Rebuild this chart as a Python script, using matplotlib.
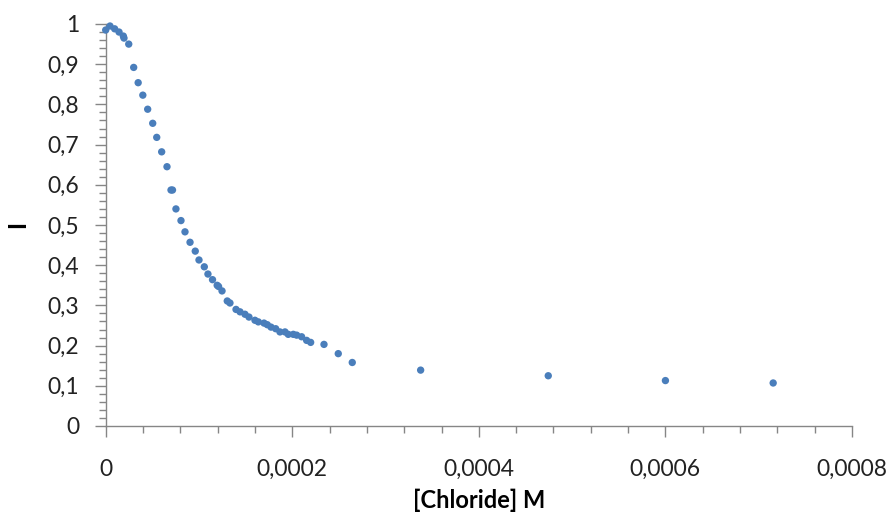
import matplotlib
matplotlib.use("Agg")
import matplotlib.pyplot as plt
from matplotlib.ticker import MultipleLocator, FuncFormatter

chloride = [0.0, 4.6e-6, 9.6e-6, 1.43e-5, 1.89e-5, 1.96e-5, 2.47e-5, 3.0e-5, 3.48e-5,
            3.98e-5, 4.5e-5, 5.04e-5, 5.47e-5, 6.0e-5, 6.57e-5, 7.0e-5, 7.16e-5,
            7.53e-5, 8.07e-5, 8.5e-5, 9.04e-5, 9.6e-5, 1.0e-4, 1.057e-4, 1.096e-4,
            1.145e-4, 1.195e-4, 1.21e-4, 1.247e-4, 1.303e-4, 1.332e-4, 1.397e-4,
            1.44e-4, 1.493e-4, 1.536e-4, 1.60e-4, 1.636e-4, 1.697e-4, 1.732e-4,
            1.772e-4, 1.822e-4, 1.868e-4, 1.922e-4, 1.957e-4, 2.011e-4, 2.047e-4,
            2.10e-4, 2.154e-4, 2.197e-4, 2.34e-4, 2.493e-4, 2.643e-4, 3.376e-4,
            4.744e-4, 6.0e-4, 7.155e-4]
intensity = [0.985, 0.995, 0.988, 0.980, 0.970, 0.965, 0.950, 0.892, 0.854,
             0.823, 0.788, 0.753, 0.718, 0.682, 0.645, 0.587, 0.587,
             0.540, 0.511, 0.483, 0.457, 0.435, 0.413, 0.396, 0.378,
             0.364, 0.350, 0.347, 0.336, 0.311, 0.306, 0.290,
             0.284, 0.278, 0.271, 0.263, 0.259, 0.256, 0.252,
             0.246, 0.242, 0.234, 0.234, 0.228, 0.228, 0.226,
             0.222, 0.213, 0.208, 0.203, 0.180, 0.158, 0.139,
             0.125, 0.113, 0.107]

x_label = "[Chloride] M"
y_label = "I"

plt.rcParams['font.family'] = ['Lato', 'DejaVu Sans']

fig = plt.figure(figsize=(8.94, 5.2), dpi=100)
ax = fig.add_axes([105.7 / 894, 94 / 520, (852 - 105.7) / 894, (426 - 24) / 520])

ax.scatter(chloride, intensity, s=28, color='#4A7EBB', edgecolors='none', zorder=3,
           clip_on=False)

ax.set_xlim(0, 0.0008)
ax.set_ylim(0, 1)

ax.xaxis.set_major_locator(MultipleLocator(0.0002))
ax.xaxis.set_minor_locator(MultipleLocator(0.00004))
ax.yaxis.set_major_locator(MultipleLocator(0.1))
ax.yaxis.set_minor_locator(MultipleLocator(0.02))

fmt = FuncFormatter(lambda v, p: ('%g' % round(v, 10)).replace('.', ','))
ax.xaxis.set_major_formatter(fmt)
ax.yaxis.set_major_formatter(fmt)

gray = '#868686'
for s in ['top', 'right']:
    ax.spines[s].set_visible(False)
for s in ['left', 'bottom']:
    ax.spines[s].set_color(gray)
    ax.spines[s].set_linewidth(1.0)

ax.tick_params(axis='both', which='major', direction='out', length=8, width=1,
               color=gray, labelsize=16.5, labelcolor='#222222')
ax.tick_params(axis='both', which='minor', direction='out', length=5, width=1,
               color=gray)
ax.tick_params(axis='x', which='major', pad=16)
ax.tick_params(axis='y', which='major', pad=11)

ax.set_xlabel(x_label, fontsize=17, fontweight='bold', labelpad=6)
ax.set_ylabel(y_label, fontsize=17, fontweight='bold', labelpad=13, rotation=90)

fig.savefig("out.png", dpi=100)
